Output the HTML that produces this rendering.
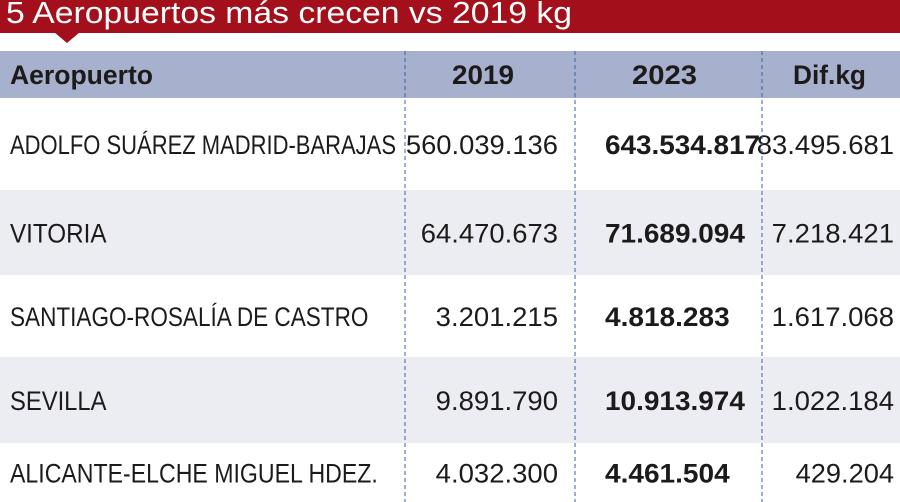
<!DOCTYPE html>
<html><head><meta charset="utf-8"><style>
html,body{margin:0;padding:0;background:#fff;width:900px;height:502px;overflow:hidden}
svg{display:block}
text{font-family:"Liberation Sans",sans-serif;fill:#1d1a1a}
</style></head><body>
<svg id="t" width="900" height="502" viewBox="0 0 900 502">
<rect x="0" y="0" width="900" height="33" fill="#a30f1a"/>
<polygon points="54,32 80,32 67,43" fill="#a30f1a"/>
<text x="6" y="23" font-size="31" textLength="566" lengthAdjust="spacingAndGlyphs" style="fill:#fff">5 Aeropuertos más crecen vs 2019 kg</text>
<rect x="0" y="51" width="900" height="47" fill="#a7b0cc"/>
<text x="10" y="84" font-size="27" font-weight="bold" textLength="143" lengthAdjust="spacingAndGlyphs">Aeropuerto</text>
<text x="452" y="84" font-size="27" font-weight="bold" textLength="62" lengthAdjust="spacingAndGlyphs">2019</text>
<text x="632" y="84" font-size="27" font-weight="bold" textLength="65" lengthAdjust="spacingAndGlyphs">2023</text>
<text x="793" y="84" font-size="27" font-weight="bold" textLength="73" lengthAdjust="spacingAndGlyphs">Dif.kg</text>
<g id="rows"></g>
<line x1="405" y1="51" x2="405" y2="502" stroke="#3b5fa8" stroke-width="1" stroke-dasharray="4,3"/>
<line x1="575" y1="51" x2="575" y2="502" stroke="#3b5fa8" stroke-width="1" stroke-dasharray="4,3"/>
<line x1="762" y1="51" x2="762" y2="502" stroke="#3b5fa8" stroke-width="1" stroke-dasharray="4,3"/>
</svg>
<script>
const airports=["ADOLFO SUÁREZ MADRID-BARAJAS","VITORIA","SANTIAGO-ROSALÍA DE CASTRO","SEVILLA","ALICANTE-ELCHE MIGUEL HDEZ."];
const v2019=["560.039.136","64.470.673","3.201.215","9.891.790","4.032.300"];
const v2023=["643.534.817","71.689.094","4.818.283","10.913.974","4.461.504"];
const vDif=["83.495.681","7.218.421","1.617.068","1.022.184","429.204"];
const NS="http://www.w3.org/2000/svg";
const g=document.getElementById('rows');
const tops=[98,190,275,357,443], bottoms=[190,275,357,443,502];
function charW(s,bold){let w=0;for(const c of s){w+=(c==='.'?0.42:(c>='0'&&c<='9'?0.7:0.62))*(bold?1.02:1);}return w;}
function txt(s,x,y,anchor,bold,scale){
  const t=document.createElementNS(NS,'text');
  t.setAttribute('x',x);t.setAttribute('y',y);t.setAttribute('font-size','27');
  t.setAttribute('text-anchor',anchor);
  if(bold)t.setAttribute('font-weight','bold');
  t.setAttribute('textLength',(charW(s,bold)*scale).toFixed(1));
  t.setAttribute('lengthAdjust','spacingAndGlyphs');
  t.textContent=s;g.appendChild(t);return t;
}
airports.forEach((a,i)=>{
  if(i%2===1){
    const r=document.createElementNS(NS,'rect');
    r.setAttribute('x',0);r.setAttribute('y',tops[i]);r.setAttribute('width',900);r.setAttribute('height',bottoms[i]-tops[i]);
    r.setAttribute('fill','#ecedf2');
    
    
    g.appendChild(r);
  }
  const y=(tops[i]+bottoms[i])/2+10;
  const n=txt(a,10,y,'start',false,386/charW(airports[0],false));
  
  
  const s=21.3;
  const c1=txt(v2019[i],558,y,'end',false,s);
  
  
  const c2=txt(v2023[i],605,y,'start',true,s);
  
  
  const c3=txt(vDif[i],894,y,'end',false,s);
  
  
});
</script>
</body></html>
